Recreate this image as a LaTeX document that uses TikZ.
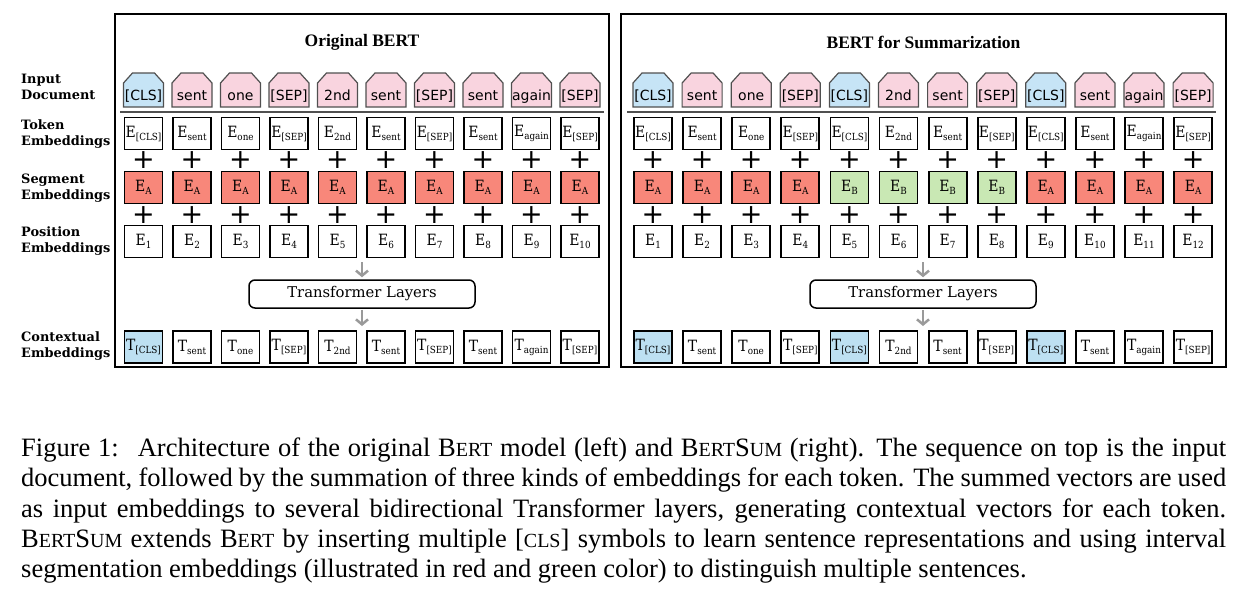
\documentclass[tikz,border=0pt]{standalone}
\usepackage{fontspec}
\setmainfont{Liberation Serif}
\newfontfamily\lblfont{DejaVu Serif}
\newfontfamily\embfont[FakeStretch=0.9]{DejaVu Serif}
\newfontfamily\sansfnt{DejaVu Sans}
\usetikzlibrary{arrows.meta}
\definecolor{clsblue}{HTML}{C6E4F6}
\definecolor{tokpink}{HTML}{F9D4DF}
\definecolor{segred}{HTML}{F8877A}
\definecolor{seggreen}{HTML}{C9E8B4}
\definecolor{tblue}{HTML}{BDE0F2}
\definecolor{arrgray}{HTML}{9A9A9A}
\definecolor{tokedge}{HTML}{505050}
\newcommand\sbs[1]{\raisebox{-3pt}{\fontsize{9.8pt}{9.8pt}\selectfont #1}}
\newcommand\smc[1]{{\fontsize{20pt}{30pt}\selectfont #1}}
\begin{document}
\begin{tikzpicture}[x=1pt,y=-1pt,
  frame/.style={draw, line width=2pt, inner sep=0pt},
  title/.style={font=\fontsize{17.5pt}{20pt}\selectfont\bfseries, inner sep=0pt},
  rowlbl/.style={anchor=west, align=left, inner sep=0pt, font=\lblfont\bfseries\fontsize{12.9pt}{16.5pt}\selectfont},
  sepline/.style={draw=tokedge, line width=1.8pt},
  tok/.style={minimum width=42pt, minimum height=36pt, inner sep=0pt,
    font=\sansfnt\fontsize{14pt}{14pt}\selectfont,
    path picture={\draw[draw=tokedge, line width=1.2pt, fill=#1]
      ([xshift=1pt,yshift=1pt]path picture bounding box.south west)
      -- ++(0pt,24pt) -- ++(9pt,10pt) -- ++(22pt,0pt) -- ++(9pt,-10pt)
      -- ++(0pt,-24pt) -- cycle;}},
  emb/.style={draw, line width=1.8pt, minimum width=38pt, minimum height=32pt,
    inner sep=0pt, font=\embfont\fontsize{15.5pt}{15.5pt}\selectfont},
  plussign/.style={inner sep=0pt, font=\sansfnt\fontsize{27pt}{27pt}\selectfont},
  trans/.style={draw, line width=1.5pt, rounded corners=6pt, minimum width=226pt,
    minimum height=28pt, inner sep=0pt, font=\lblfont\fontsize{14.8pt}{14.8pt}\selectfont},
  arr/.style={draw=arrgray, line width=2.5pt, -{Straight Barb[length=5pt,width=12pt]}},
  capline/.style={anchor=base west, inner sep=0pt, font=\fontsize{26.5pt}{31pt}\selectfont}
]
\useasboundingbox (0,0) rectangle (1234,595);

% frames and titles
\node[frame, minimum width=494pt, minimum height=353pt] (frameL) at (362,190.5) {};
\node[frame, minimum width=605pt, minimum height=353pt] (frameR) at (923.5,190.5) {};
\node[title] (titleL) at (362,42) {Original BERT};
\node[title] (titleR) at (923.5,42) {BERT for Summarization};

% row labels
\node[rowlbl] (lblIn)  at (21,87)    {Input\\Document};
\node[rowlbl] (lblTok) at (21,134)   {Token\\Embeddings};
\node[rowlbl] (lblSeg) at (21,188)   {Segment\\Embeddings};
\node[rowlbl] (lblPos) at (21,241)   {Position\\Embeddings};
\node[rowlbl] (lblCtx) at (21,346)   {Contextual\\Embeddings};

% separators
\coordinate (sepL1) at (120,112); \coordinate (sepL2) at (604,112);
\coordinate (sepR1) at (627,112); \coordinate (sepR2) at (1216,112);
\draw[sepline] (sepL1) -- (sepL2);
\draw[sepline] (sepR1) -- (sepR2);

% left columns
\foreach \t/\c/\s/\g/\k [count=\i] in {
  [CLS]/clsblue/A/segred/tblue, sent/tokpink/A/segred/white, one/tokpink/A/segred/white,
  [SEP]/tokpink/A/segred/white, 2nd/tokpink/A/segred/white, sent/tokpink/A/segred/white,
  [SEP]/tokpink/A/segred/white, sent/tokpink/A/segred/white, again/tokpink/A/segred/white,
  [SEP]/tokpink/A/segred/white}{
  \pgfmathsetmacro\x{143.5+48.5*(\i-1)}
  \node[tok=\c] (pL\i) at (\x,90) {\raisebox{-10pt}[0pt][0pt]{\t}};
  \node[emb] (tL\i) at (\x,133.5) {E\sbs{\t}};
  \node[plussign] (paL\i) at (\x,160) {+};
  \node[emb, fill=\g] (sL\i) at (\x,187.5) {E\sbs{\s}};
  \node[plussign] (pbL\i) at (\x,215) {+};
  \node[emb] (qL\i) at (\x,241.5) {E\sbs{\i}};
  \node[emb, fill=\k] (cL\i) at (\x,347) {T\sbs{\t}};
}

% right columns
\foreach \t/\c/\s/\g/\k [count=\i] in {
  [CLS]/clsblue/A/segred/tblue, sent/tokpink/A/segred/white, one/tokpink/A/segred/white,
  [SEP]/tokpink/A/segred/white, [CLS]/clsblue/B/seggreen/tblue, 2nd/tokpink/B/seggreen/white,
  sent/tokpink/B/seggreen/white, [SEP]/tokpink/B/seggreen/white, [CLS]/clsblue/A/segred/tblue,
  sent/tokpink/A/segred/white, again/tokpink/A/segred/white, [SEP]/tokpink/A/segred/white}{
  \pgfmathsetmacro\x{653+49.1*(\i-1)}
  \node[tok=\c] (pR\i) at (\x,90) {\raisebox{-10pt}[0pt][0pt]{\t}};
  \node[emb] (tR\i) at (\x,133.5) {E\sbs{\t}};
  \node[plussign] (paR\i) at (\x,160) {+};
  \node[emb, fill=\g] (sR\i) at (\x,187.5) {E\sbs{\s}};
  \node[plussign] (pbR\i) at (\x,215) {+};
  \node[emb] (qR\i) at (\x,241.5) {E\sbs{\i}};
  \node[emb, fill=\k] (cR\i) at (\x,347) {T\sbs{\t}};
}

% transformer layers and arrows
\node[trans] (trL) at (362,294) {Transformer Layers};
\node[trans] (trR) at (923,294) {Transformer Layers};
\coordinate (aL) at (362,262); \coordinate (bL) at (362,326);
\coordinate (aR) at (923,262); \coordinate (bR) at (923,326);
\draw[arr, shorten >=2pt] (aL) -- (trL.north);
\draw[arr, shorten <=1pt] (trL.south) -- (bL);
\draw[arr, shorten >=2pt] (aR) -- (trR.north);
\draw[arr, shorten <=1pt] (trR.south) -- (bR);

% caption
\node[capline] (cap1) at (21,456) {\makebox[1205pt][s]{Figure 1:\hspace{0.3em} Architecture of the original B\smc{ERT} model (left) and B\smc{ERT}S\smc{UM} (right). The sequence on top is the input}};
\node[capline] (cap2) at (21,486.5) {\makebox[1205pt][s]{document, followed by the summation of three kinds of embeddings for each token. The summed vectors are used}};
\node[capline] (cap3) at (21,517) {\makebox[1205pt][s]{as input embeddings to several bidirectional Transformer layers, generating contextual vectors for each token.}};
\node[capline] (cap4) at (21,547) {\makebox[1205pt][s]{B\smc{ERT}S\smc{UM} extends B\smc{ERT} by inserting multiple [\smc{CLS}] symbols to learn sentence representations and using interval}};
\node[capline] (cap5) at (21,577.5) {segmentation embeddings (illustrated in red and green color) to distinguish multiple sentences.};
\end{tikzpicture}
\end{document}
